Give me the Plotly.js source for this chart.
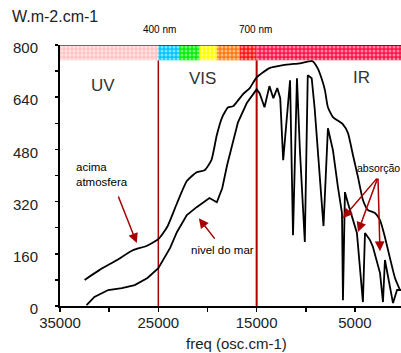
<!DOCTYPE html>
<html>
<head>
<meta charset="utf-8">
<script src="https://cdn.plot.ly/plotly-3.0.1.min.js"></script>
<style>
  html, body { margin: 0; padding: 0; background: #fff; }
  #chart { width: 401px; height: 353px; }
</style>
</head>
<body>
<div id="chart"></div>
<script>
// Above-atmosphere spectrum (freq in osc.cm-1, irradiance W.m-2.cm-1)
const aboveX = [32500, 31000, 29200, 27600, 26200, 25000, 24100, 23100, 22100, 21100, 20300, 19600, 19050, 18500, 17900, 17400, 16400, 15700, 15000, 13700, 12300, 10600, 9300, 8800, 8400, 8050, 7750, 7240, 6220, 5710, 5200, 4690, 4190, 3680, 2960, 2450, 1950, 1440, 930, 420];
const aboveY = [80, 110, 141, 171, 184, 205, 242, 315, 383, 410, 416, 447, 524, 579, 609, 612, 649, 668, 701, 729, 738, 744, 750, 729, 698, 661, 609, 579, 557, 530, 462, 395, 325, 294, 285, 263, 211, 147, 86, 49];

// Sea-level spectrum
const seaX = [32300, 31500, 30100, 28700, 27400, 26100, 25000, 24300, 23800, 23100, 22100, 21100, 19800, 19050, 18500, 18000, 17500, 16900, 16000, 15000, 14700, 14200, 13700, 13300, 12900, 12600, 12300, 11900, 11600, 11300, 10900, 10600, 10100, 9800, 9400, 9100, 8600, 8200, 7750, 7240, 6730, 6320, 6220, 6020, 5710, 5200, 4800, 4190, 3980, 3470, 3170, 2450, 2150, 1950, 1640, 1130, 720, 300];
const seaY = [3, 28, 49, 55, 64, 86, 116, 150, 178, 227, 279, 303, 331, 318, 361, 432, 493, 563, 622, 664, 652, 609, 674, 637, 668, 637, 447, 594, 692, 217, 698, 478, 196, 707, 698, 606, 410, 245, 545, 478, 364, 285, 18, 349, 315, 263, 224, 12, 224, 202, 181, 101, 12, 141, 89, 9, 49, 49];

// Spectral regions of the top band (freq limits)
const bandNames = ["UV", "azul", "verde", "amarelo", "laranja", "vermelho", "IR"];
const bandFrom  = [35000, 25000, 22800, 20800, 19050, 16700, 15000];
const bandTo    = [25000, 22800, 20800, 19050, 16700, 15000, 0];

// Tick labels
const xTickVals = [35000, 25000, 15000, 5000];
const yTickVals = [0, 160, 320, 480, 640, 800];

const bandColors = ["#ffc4c4", "#00c4ff", "#00ee00", "#ffff00", "#ff7a10", "#ff1010", "#ff1048"];

const FONT = "Liberation Sans, Arial, sans-serif";
const TXT = "#222";
const RED = "#a80000";

const traces = [];
for (let i = 0; i < bandNames.length; i++) {
  traces.push({
    type: "bar",
    orientation: "h",
    y: [776.5],
    x: [bandFrom[i] - bandTo[i]],
    base: [bandTo[i]],
    width: [47],
    name: bandNames[i],
    marker: {
      color: bandColors[i],
      line: { width: 0 },
      pattern: { shape: ".", fgcolor: "#ffffff", fillmode: "overlay", size: 4, solidity: 0.45 }
    },
    showlegend: false,
    hoverinfo: "skip"
  });
}
traces.push({
  type: "scatter", mode: "lines", x: aboveX, y: aboveY,
  line: { color: "#000", width: 1.8, shape: "spline", smoothing: 0.5 },
  showlegend: false, name: "acima atmosfera"
});
traces.push({
  type: "scatter", mode: "lines", x: seaX, y: seaY,
  line: { color: "#000", width: 1.8 },
  showlegend: false, name: "nivel do mar"
});

function arrow(hx, hy, tx, ty) {
  return { x: hx, y: hy, ax: tx, ay: ty, xref: "x", yref: "y", axref: "x", ayref: "y",
           text: "", showarrow: true, arrowhead: 2, arrowsize: 1.3, arrowwidth: 1.5, arrowcolor: RED };
}

const layout = {
  width: 401, height: 353,
  margin: { l: 60, r: 0, t: 45, b: 47, pad: 0 },
  paper_bgcolor: "#fff", plot_bgcolor: "#fff",
  barmode: "overlay",
  font: { family: FONT, color: TXT },
  xaxis: {
    range: [35000, 317], autorange: false,
    tickvals: xTickVals, ticktext: xTickVals.map(String),
    ticks: "outside", ticklen: 4, tickwidth: 1.5, tickcolor: "#000",
    minor: { dtick: 5000, tick0: 0, ticks: "outside", ticklen: 4, tickwidth: 1.5, tickcolor: "#000" },
    showline: true, linecolor: "#000", linewidth: 2,
    showgrid: false, zeroline: false,
    ticklabelstandoff: -2,
    tickfont: { family: FONT, size: 15, color: TXT }
  },
  yaxis: {
    range: [0, 800], autorange: false,
    tickvals: yTickVals, ticktext: yTickVals.map(String),
    ticks: "outside", ticklen: 3, tickwidth: 1.5, tickcolor: "#000",
    minor: { dtick: 80, tick0: 0, ticks: "outside", ticklen: 3, tickwidth: 1.5, tickcolor: "#000" },
    showline: true, linecolor: "#000", linewidth: 2,
    showgrid: false, zeroline: false,
    ticklabelstandoff: 14, ticklabelshift: 3,
    tickfont: { family: FONT, size: 15, color: TXT }
  },
  shapes: [
    { type: "line", xref: "x", yref: "y", x0: 25000, x1: 25000, y0: 0, y1: 753, line: { color: RED, width: 1.5 }, layer: "below" },
    { type: "line", xref: "x", yref: "y", x0: 15000, x1: 15000, y0: 0, y1: 753, line: { color: RED, width: 2 }, layer: "below" },
    { type: "line", xref: "paper", yref: "y", x0: 0, x1: 1, y0: 800, y1: 800, line: { color: "#000", width: 1.2 } }
  ],
  annotations: [
    { xref: "paper", yref: "paper", x: -0.147, y: 1.111, xanchor: "left", yanchor: "middle", text: "W.m-2.cm-1", showarrow: false, font: { size: 16, color: TXT } },
    { xref: "paper", yref: "paper", x: 0.517, y: -0.142, xanchor: "center", yanchor: "middle", text: "freq (osc.cm-1)", showarrow: false, font: { size: 15, color: TXT } },
    { xref: "x", yref: "paper", x: 24900, y: 1.058, xanchor: "center", yanchor: "middle", text: "400 nm", showarrow: false, font: { size: 10, color: "#000" } },
    { xref: "x", yref: "paper", x: 15100, y: 1.058, xanchor: "center", yanchor: "middle", text: "700 nm", showarrow: false, font: { size: 10, color: "#000" } },
    { xref: "x", yref: "y", x: 30650, y: 677, text: "UV", showarrow: false, font: { size: 17, color: "#333" } },
    { xref: "x", yref: "y", x: 20470, y: 698, text: "VIS", showarrow: false, font: { size: 17, color: "#333" } },
    { xref: "x", yref: "y", x: 4290, y: 700, text: "IR", showarrow: false, font: { size: 17, color: "#333" } },
    { xref: "x", yref: "y", x: 33600, y: 403, xanchor: "left", text: "acima<br>atmosfera", align: "left", showarrow: false, font: { size: 11.5, color: "#000" } },
    { xref: "x", yref: "y", x: 18440, y: 171, text: "nivel do mar", showarrow: false, font: { size: 11.5, color: "#000" } },
    { xref: "x", yref: "y", x: 5000, y: 423, xanchor: "left", text: "absorção", showarrow: false, font: { size: 10.5, color: "#000" } },
    arrow(27192, 193, 29126, 340),
    arrow(20880, 269, 19150, 202),
    arrow(6221, 269, 2658, 395),
    arrow(4694, 227, 2658, 395),
    arrow(2455, 168, 2658, 395)
  ]
};

Plotly.newPlot("chart", traces, layout, { staticPlot: true, displayModeBar: false });
</script>
</body>
</html>
